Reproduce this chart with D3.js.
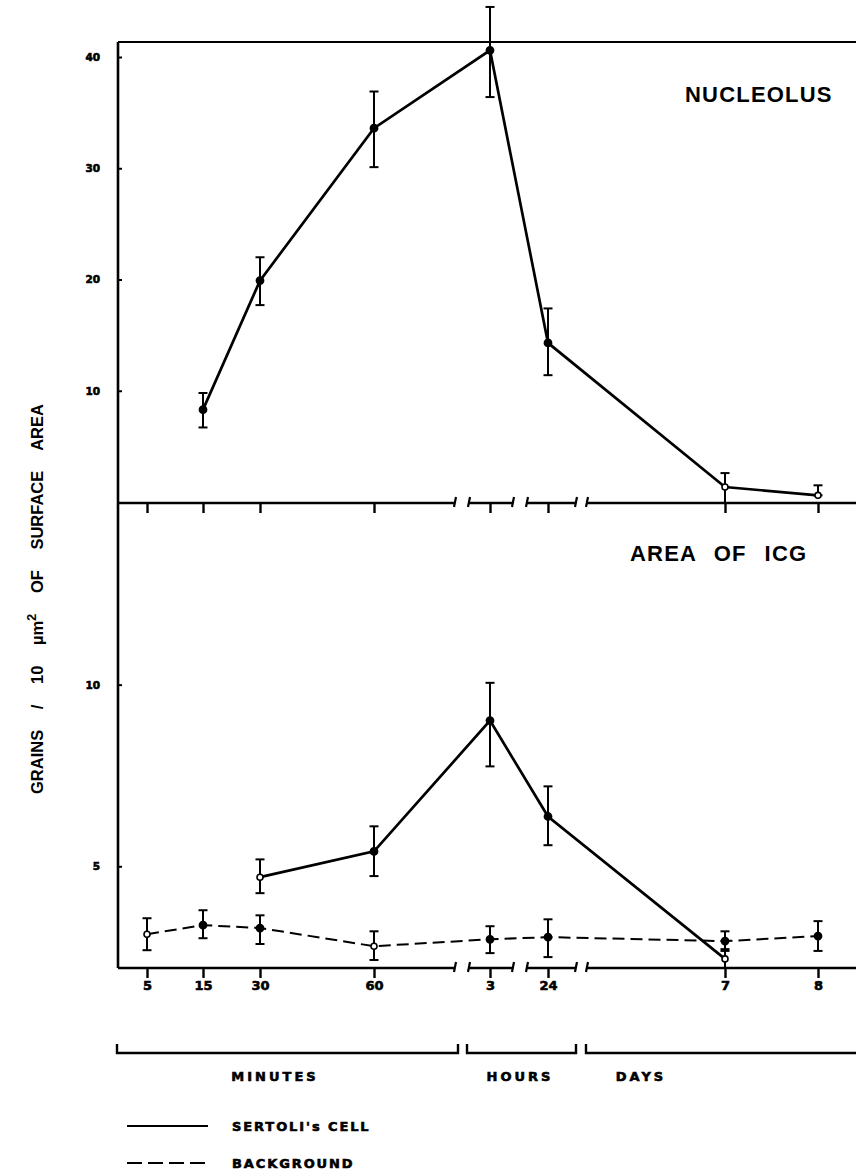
<!DOCTYPE html>
<html>
<head>
<meta charset="utf-8">
<script src="https://d3js.org/d3.v7.min.js"></script>
<style>
  body { margin: 0; background: #fff; }
  svg { display: block; }
</style>
</head>
<body>
<script>
// time points along the broken x axis
const times = ["5", "15", "30", "60", "3", "24", "7", "8"];
const unitLabels = ["MINUTES", "HOURS", "DAYS"];

// upper panel: nucleolus, Sertoli's cell
const nucleolus   = [null, 8.3, 19.9, 33.6, 40.6, 14.3, 1.35, 0.6];
const nucleolusHi = [null, 9.8, 22.0, 36.9, 44.5, 17.4, 2.6, 1.5];
const nucleolusLo = [null, 6.7, 17.7, 30.1, 36.4, 11.4, 0, 0.6];

// lower panel: area of ICG
const sertoli   = [null, null, 4.70, 5.41, 9.01, 6.37, 2.45, null];
const sertoliHi = [null, null, 5.19, 6.10, 10.05, 7.20, 2.72, null];
const sertoliLo = [null, null, 4.26, 4.73, 7.75, 5.58, 2.2, null];

const background   = [3.13, 3.38, 3.30, 2.80, 2.99, 3.05, 2.94, 3.08];
const backgroundHi = [3.57, 3.79, 3.65, 3.21, 3.35, 3.54, 3.21, 3.49];
const backgroundLo = [2.69, 3.02, 2.86, 2.42, 2.61, 2.50, 2.67, 2.67];

const yTopTicks = [10, 20, 30, 40];
const yBotTicks = [5, 10];

const W = 856, H = 1171;
const axisX = 118, frameTop = 42, midY = 503, botY = 968, edgeX = 860;

const svg = d3.select("body").append("svg")
  .attr("width", W)
  .attr("height", H);

const x = d3.scaleLinear()
  .domain(d3.range(times.length))
  .range([147, 203, 260, 374, 490, 548, 725, 818]);

const yTop = d3.scaleLinear().domain([0, 41.35]).range([midY - 1, frameTop]);
const yBot = d3.scaleLinear().domain([2.2, 15]).range([botY, midY]);

const boldWide = "'DejaVu Sans', sans-serif";
const titleFont = "'Liberation Sans', Arial, sans-serif";

// heavy "stencil" lettering of the original
function heavy(sel, size) {
  sel.attr("font-family", boldWide).attr("font-weight", "bold").attr("font-size", size)
    .attr("fill", "#000").attr("stroke", "#000").attr("stroke-width", 0.6);
}

// frame: top rule and left axis
svg.append("line").attr("x1", axisX).attr("x2", edgeX).attr("y1", frameTop).attr("y2", frameTop)
  .attr("stroke", "#000").attr("stroke-width", 2.2);
svg.append("line").attr("x1", axisX).attr("x2", axisX).attr("y1", frameTop).attr("y2", botY)
  .attr("stroke", "#000").attr("stroke-width", 2.6);

// broken x axis segments (minutes | 3h | 24h | days)
const segs = [[axisX, 455], [469, 513], [527, 576], [587, edgeX]];
function brokenAxis(y0) {
  const g = svg.append("g");
  segs.forEach(([a, b], i) => {
    g.append("line").attr("x1", a).attr("x2", b).attr("y1", y0).attr("y2", y0)
      .attr("stroke", "#000").attr("stroke-width", 2.6);
    if (i > 0) g.append("line").attr("x1", a - 1).attr("x2", a + 1).attr("y1", y0 + 4).attr("y2", y0 - 6)
      .attr("stroke", "#000").attr("stroke-width", 2.2);
    if (b < edgeX) g.append("line").attr("x1", b - 1).attr("x2", b + 1).attr("y1", y0 + 4).attr("y2", y0 - 6)
      .attr("stroke", "#000").attr("stroke-width", 2.2);
  });
}
brokenAxis(midY);
brokenAxis(botY);

// x ticks
const xAxisTop = svg.append("g")
  .attr("transform", `translate(0,${midY})`)
  .call(d3.axisBottom(x).tickValues(d3.range(times.length)).tickSize(10).tickFormat(""));
xAxisTop.select(".domain").remove();
xAxisTop.selectAll("line").attr("stroke-width", 2.4);

const xAxisBot = svg.append("g")
  .attr("transform", `translate(0,${botY})`)
  .call(d3.axisBottom(x).tickValues(d3.range(times.length)).tickSize(10).tickPadding(3)
    .tickFormat(i => times[i]));
xAxisBot.select(".domain").remove();
xAxisBot.selectAll("line").attr("stroke-width", 2.4);
heavy(xAxisBot.selectAll("text"), 13);

// y ticks
function yAxis(scale, ticks) {
  const g = svg.append("g")
    .attr("transform", `translate(${axisX},0)`)
    .call(d3.axisLeft(scale).tickValues(ticks).tickSize(-4).tickPadding(18));
  g.select(".domain").remove();
  g.selectAll("line").attr("stroke-width", 2);
  heavy(g.selectAll("text"), 10.5);
}
yAxis(yTop, yTopTicks);
yAxis(yBot, yBotTicks);

// series drawing
function drawSeries(vals, hi, lo, scale, dashed, hollow) {
  const pts = vals.map((v, i) => ({ i, v, hi: hi[i], lo: lo[i] })).filter(d => d.v != null);
  const line = d3.line().x(d => x(d.i)).y(d => scale(d.v));
  svg.append("path").datum(pts)
    .attr("d", line)
    .attr("fill", "none")
    .attr("stroke", "#000")
    .attr("stroke-width", dashed ? 2 : 2.7)
    .attr("stroke-dasharray", dashed ? "12,6" : null);

  const eb = svg.append("g").attr("stroke", "#000").attr("stroke-width", 2);
  pts.forEach(d => {
    eb.append("line").attr("x1", x(d.i)).attr("x2", x(d.i))
      .attr("y1", scale(d.hi)).attr("y2", scale(d.lo));
    eb.append("line").attr("x1", x(d.i) - 4.5).attr("x2", x(d.i) + 4.5)
      .attr("y1", scale(d.hi)).attr("y2", scale(d.hi));
    if (scale(d.lo) < scale.range()[0] - 2)
      eb.append("line").attr("x1", x(d.i) - 4.5).attr("x2", x(d.i) + 4.5)
        .attr("y1", scale(d.lo)).attr("y2", scale(d.lo));
  });

  svg.append("g").selectAll("circle")
    .data(pts)
    .join("circle")
    .attr("cx", d => x(d.i))
    .attr("cy", d => scale(d.v))
    .attr("r", d => hollow.includes(d.i) ? 3 : 3.6)
    .attr("fill", d => hollow.includes(d.i) ? "#fff" : "#000")
    .attr("stroke", "#000")
    .attr("stroke-width", 1.6);
}

drawSeries(nucleolus, nucleolusHi, nucleolusLo, yTop, false, [6, 7]);
drawSeries(background, backgroundHi, backgroundLo, yBot, true, [0, 3]);
drawSeries(sertoli, sertoliHi, sertoliLo, yBot, false, [2, 6]);

// panel titles
svg.append("text")
  .attr("x", 685).attr("y", 102)
  .attr("font-family", titleFont).attr("font-weight", "bold")
  .attr("font-size", 22).attr("letter-spacing", 1.2)
  .text("NUCLEOLUS");

const icg = svg.append("text")
  .attr("x", 630).attr("y", 561)
  .attr("font-family", titleFont).attr("font-weight", "bold")
  .attr("font-size", 22).attr("letter-spacing", 1.2).attr("word-spacing", 10);
icg.append("tspan").text("AREA OF");
icg.append("tspan").attr("dx", 18).text("ICG");

// y axis title
const yt = svg.append("text")
  .attr("transform", "translate(43,599) rotate(-90)")
  .attr("text-anchor", "middle")
  .attr("font-family", titleFont).attr("font-weight", "bold")
  .attr("font-size", 16.5).attr("word-spacing", 16);
yt.append("tspan").text("GRAINS / 10 \u00b5m");
yt.append("tspan").attr("dy", -7).attr("font-size", 13).text("2");
yt.append("tspan").attr("dy", 7).text(" OF SURFACE AREA");

// unit brackets under the lower axis
const brackets = [[117, 458], [467, 576], [586, edgeX]];
const labelX = [275, 520, 641];
brackets.forEach(([a, b], i) => {
  const p = d3.path();
  p.moveTo(a, 1044); p.lineTo(a, 1053); p.lineTo(b, 1053);
  if (b < edgeX) p.lineTo(b, 1044);
  svg.append("path").attr("d", p.toString())
    .attr("fill", "none").attr("stroke", "#000").attr("stroke-width", 2.4);
  svg.append("text")
    .attr("x", labelX[i]).attr("y", 1081)
    .attr("text-anchor", "middle")
    .attr("letter-spacing", 3)
    .call(heavy, 13)
    .text(unitLabels[i]);
});

// legend
const legend = [
  { label: "SERTOLI's CELL", dash: null, y: 1126 },
  { label: "BACKGROUND", dash: "15,6", y: 1163 }
];
legend.forEach(d => {
  svg.append("line").attr("x1", 127).attr("x2", 208).attr("y1", d.y).attr("y2", d.y)
    .attr("stroke", "#000").attr("stroke-width", 2.2)
    .attr("stroke-dasharray", d.dash);
  svg.append("text")
    .attr("x", 232).attr("y", d.y + 5)
    .attr("letter-spacing", 1.9)
    .call(heavy, 13)
    .text(d.label);
});
</script>
</body>
</html>
